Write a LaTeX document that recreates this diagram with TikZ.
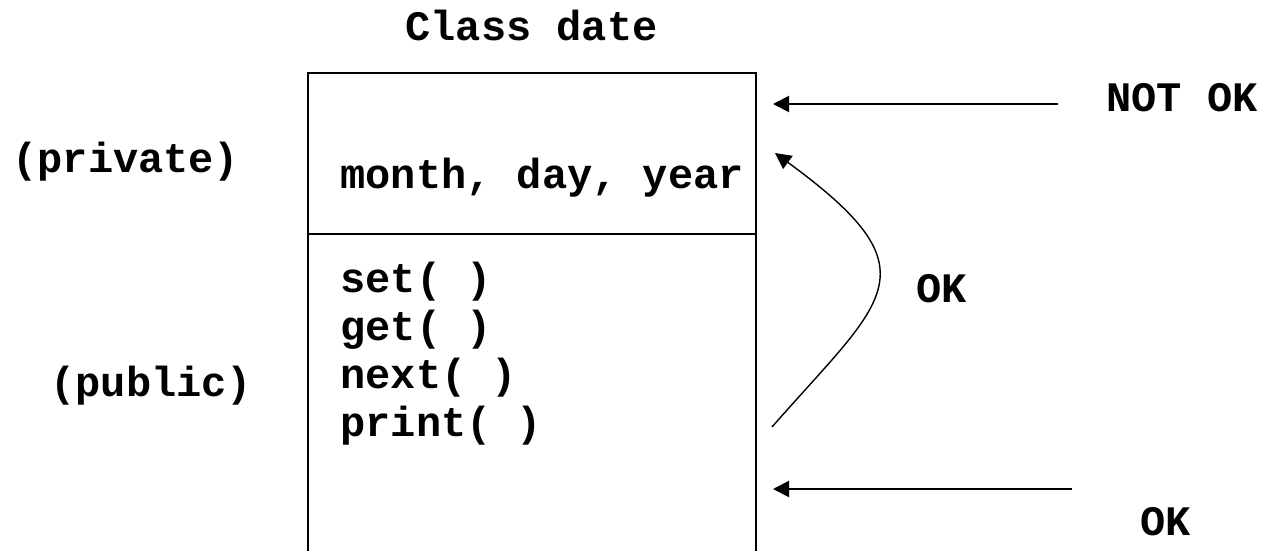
\documentclass[tikz,border=0pt]{standalone}
\usepackage{fontspec}
\setmonofont{Liberation Mono}
\usetikzlibrary{arrows.meta}

\begin{document}
\begin{tikzpicture}[x=0.5pt, y=-0.5pt,
  txt/.style={font=\ttfamily\bfseries\fontsize{21}{25}\selectfont, inner sep=0pt, anchor=base west},
  boxline/.style={line width=1pt},
  ptr/.style={line width=1pt, -{Triangle[length=8pt, width=8pt]}},
  curv/.style={line width=0.7pt, -{Triangle[length=8pt, width=8pt]}}]
\useasboundingbox (0,0) rectangle (1269,551);
% class box, open at the bottom
\draw[boxline] (308,551) |- (756,73) -- (756,551);
\draw[boxline] (308,234) -- (756,234);
% texts
\node[txt] (title) at (405,41) {Class date};
\node[txt] (priv) at (12,172) {(private)};
\node[txt] (pub) at (50,396) {(public)};
\node[txt] (attrs) at (340,188) {month, day, year};
\node[txt] (mset) at (340,292) {set( )};
\node[txt] (mget) at (340,340) {get( )};
\node[txt] (mnext) at (340,388) {next( )};
\node[txt] (mprint) at (340,436) {print( )};
\node[txt] (notok) at (1106,112) {NOT OK};
\node[txt] (okin) at (916,302) {OK};
\node[txt] (okout) at (1140,535) {OK};
% arrow ends
\coordinate (topout) at (1058,104);
\coordinate (topin) at (773,104);
\coordinate (botout) at (1072,489);
\coordinate (botin) at (773,489);
\coordinate (cfrom) at (772,427);
\coordinate (cto) at (775,153);
\draw[ptr] (topout) -- (topin);
\draw[ptr] (botout) -- (botin);
\draw[curv] (cfrom) .. controls (885,298) and (938,272) .. (cto);
\end{tikzpicture}
\end{document}
